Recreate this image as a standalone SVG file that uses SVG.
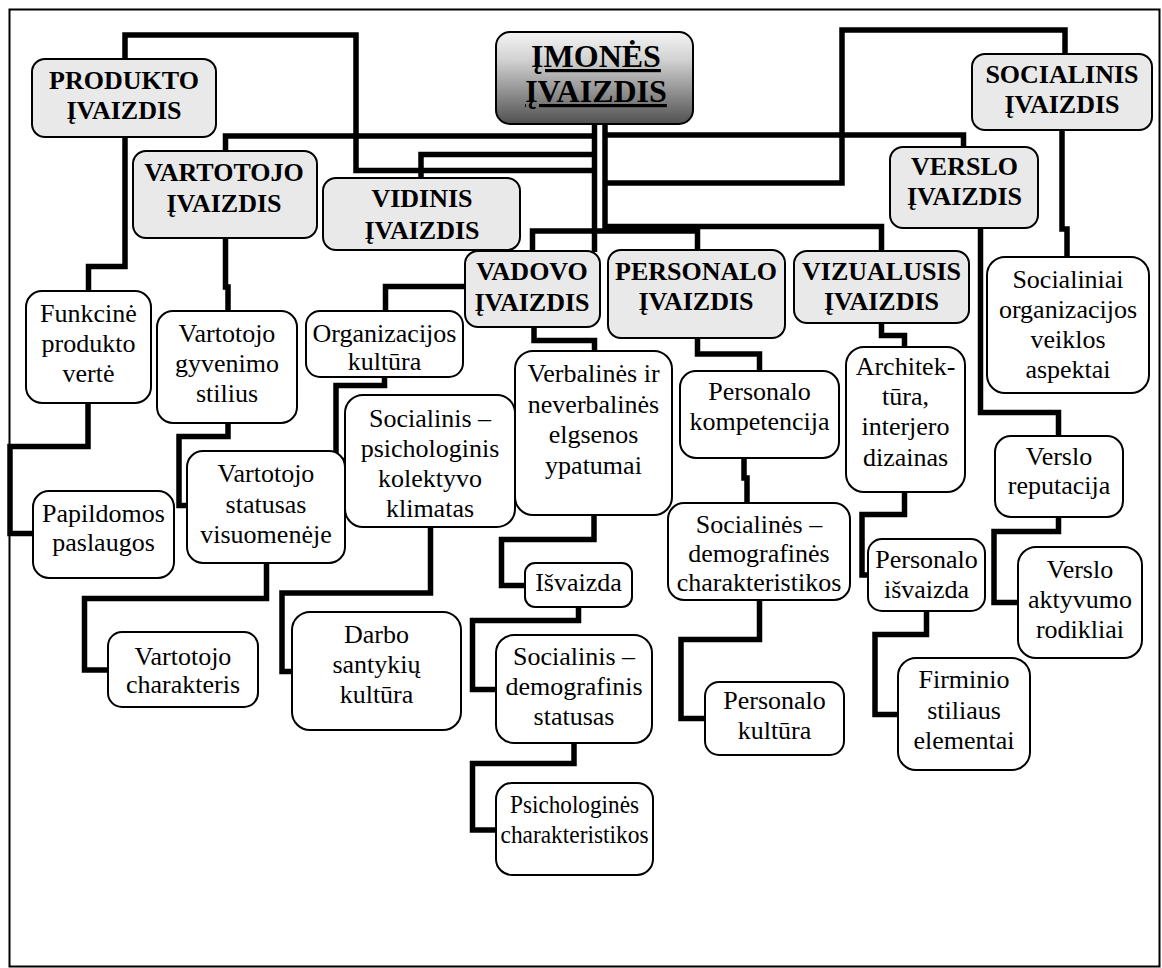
<svg xmlns="http://www.w3.org/2000/svg" width="1162" height="968" viewBox="0 0 1162 968">
  <defs>
    <linearGradient id="hdrGrad" x1="0" y1="0" x2="0" y2="1">
      <stop offset="0" stop-color="#f4f4f4"/>
      <stop offset="0.3" stop-color="#d2d2d2"/>
      <stop offset="1" stop-color="#505050"/>
    </linearGradient>
    <style>
      .frame { fill: #ffffff; stroke: #000000; stroke-width: 2; }
      .wire { fill: none; stroke: #000000; stroke-width: 5.5; stroke-linejoin: miter; stroke-linecap: butt; }
      .head rect { fill: #e9e9e9; stroke: #000000; stroke-width: 2; }
      .leaf rect { fill: #ffffff; stroke: #000000; stroke-width: 2; }
      .head text { font-weight: bold; font-size: 26px; text-anchor: middle; fill: #000000; }
      .leaf text { font-size: 26px; text-anchor: middle; fill: #000000; }
      #imones rect { fill: url(#hdrGrad); stroke: #000000; stroke-width: 2; }
      #imones text { font-weight: bold; font-size: 32px; text-anchor: middle; fill: #000000; text-decoration: underline; }
    </style>
  </defs>

  <!-- outer frame -->
  <rect class="frame" x="9.5" y="9.5" width="1150" height="957"/>

  <!-- connectors -->
  <g id="connectors" class="wire">
    <!-- central trunks -->
    <path d="M594.5 124 V252"/>
    <path d="M605 124 V231"/>
    <!-- left-hand branches -->
    <path d="M594.5 136 H225.5 V151"/>
    <path d="M594.5 154.5 H421 V178"/>
    <path d="M594.5 170.5 H356 V35 H125 V59"/>
    <path d="M532.5 252 V231 H697.5 V250"/>
    <!-- right-hand branches -->
    <path d="M605 135 H963.5 V147"/>
    <path d="M605 183 H842 V30 H1065 V54"/>
    <path d="M605 226.5 H881.5 V251"/>

    <!-- product image -->
    <path d="M125 137 V266.5 H88.5 V291"/>
    <path d="M88 403 V446.5 H10 V533.5 H33"/>
    <!-- consumer image -->
    <path d="M225.5 238 V287 H228 V311"/>
    <path d="M228 423 V436.5 H179 V505.5 H187"/>
    <path d="M266.5 563 V598.5 H84.5 V670 H108"/>
    <!-- manager image -->
    <path d="M465 286.5 H385.5 V311"/>
    <path d="M384.5 377 V385.5 H336 V460.5 H345"/>
    <path d="M430.5 527 V593 H282 V671.5 H292"/>
    <path d="M534 327 V340.5 H594.5 V351"/>
    <path d="M594 515 V539.5 H501.5 V585.5 H525"/>
    <path d="M578.5 607 V620.5 H472.5 V689.5 H496"/>
    <path d="M574 743 V763.5 H472.5 V830 H496"/>
    <!-- staff image -->
    <path d="M697.5 338 V354 H759.5 V371"/>
    <path d="M744 458 V478 H747 V503"/>
    <path d="M759.5 600 V639.5 H681 V718.5 H705"/>
    <!-- visual image -->
    <path d="M881.5 323 V335.5 H904.5 V347"/>
    <path d="M904.5 492 V514.5 H862 V575 H869"/>
    <path d="M926.5 611 V634.5 H875 V714.5 H898"/>
    <!-- business image -->
    <path d="M980.5 228 V412.5 H1058.5 V436"/>
    <path d="M1058.5 517 V531.5 H994 V602.5 H1018"/>
    <!-- social image -->
    <path d="M1062 130 V229 H1067 V257"/>
  </g>

  <g id="nodes" font-family="'Liberation Serif', 'Times New Roman', 'Noto Serif', 'DejaVu Serif', serif">
  <!-- root node -->
  <g id="imones">
    <rect x="496" y="32" width="197" height="92" rx="14"/>
    <text x="596" y="67">ĮMONĖS</text>
    <text x="596" y="102">ĮVAIZDIS</text>
  </g>

  <!-- category nodes -->
  <g id="produkto" class="head">
    <rect x="32" y="59" width="184" height="78" rx="13"/>
    <text x="124" y="89">PRODUKTO</text>
    <text x="124" y="119">ĮVAIZDIS</text>
  </g>
  <g id="vartotojo" class="head">
    <rect x="133" y="151" width="184" height="87" rx="13"/>
    <text x="224" y="181">VARTOTOJO</text>
    <text x="224" y="212">ĮVAIZDIS</text>
  </g>
  <g id="vidinis" class="head">
    <rect x="323" y="178" width="197" height="72" rx="13"/>
    <text x="422" y="207">VIDINIS</text>
    <text x="422" y="239">ĮVAIZDIS</text>
  </g>
  <g id="vadovo" class="head">
    <rect x="465" y="251" width="135" height="76" rx="13"/>
    <text x="532" y="280">VADOVO</text>
    <text x="532" y="311">ĮVAIZDIS</text>
  </g>
  <g id="personalo" class="head">
    <rect x="608" y="250" width="177" height="88" rx="13"/>
    <text x="696" y="280">PERSONALO</text>
    <text x="696" y="310">ĮVAIZDIS</text>
  </g>
  <g id="vizualusis" class="head">
    <rect x="794" y="251" width="175" height="72" rx="13"/>
    <text x="881.5" y="280">VIZUALUSIS</text>
    <text x="881.5" y="310">ĮVAIZDIS</text>
  </g>
  <g id="verslo" class="head">
    <rect x="890" y="147" width="148" height="81" rx="13"/>
    <text x="964.5" y="175">VERSLO</text>
    <text x="964.5" y="205">ĮVAIZDIS</text>
  </g>
  <g id="socialinis" class="head">
    <rect x="972" y="54" width="180" height="76" rx="13"/>
    <text x="1062" y="83">SOCIALINIS</text>
    <text x="1062" y="113">ĮVAIZDIS</text>
  </g>

  <!-- detail nodes -->
  <g id="funkcine" class="leaf">
    <rect x="26" y="291" width="125" height="112" rx="16"/>
    <text x="88.5" y="322">Funkcinė</text>
    <text x="88.5" y="352">produkto</text>
    <text x="88.5" y="382">vertė</text>
  </g>
  <g id="papildomos" class="leaf">
    <rect x="33" y="491" width="141" height="87" rx="16"/>
    <text x="103.5" y="522">Papildomos</text>
    <text x="103.5" y="551">paslaugos</text>
  </g>
  <g id="gyvenimo" class="leaf">
    <rect x="157" y="311" width="140" height="112" rx="16"/>
    <text x="227" y="342">Vartotojo</text>
    <text x="227" y="372">gyvenimo</text>
    <text x="227" y="402">stilius</text>
  </g>
  <g id="statusas" class="leaf">
    <rect x="187" y="451" width="158" height="112" rx="16"/>
    <text x="266" y="482">Vartotojo</text>
    <text x="266" y="513">statusas</text>
    <text x="266" y="543">visuomenėje</text>
  </g>
  <g id="charakteris" class="leaf">
    <rect x="108" y="632" width="150" height="75" rx="14"/>
    <text x="183" y="665">Vartotojo</text>
    <text x="183" y="693">charakteris</text>
  </g>
  <g id="organizacijos" class="leaf">
    <rect x="306" y="311" width="157" height="66" rx="14"/>
    <text x="384.5" y="342">Organizacijos</text>
    <text x="384.5" y="370">kultūra</text>
  </g>
  <g id="klimatas" class="leaf">
    <rect x="345" y="395" width="170" height="132" rx="18"/>
    <text x="430" y="427">Socialinis –</text>
    <text x="430" y="457">psichologinis</text>
    <text x="430" y="487">kolektyvo</text>
    <text x="430" y="517">klimatas</text>
  </g>
  <g id="darbo" class="leaf">
    <rect x="292" y="612" width="169" height="118" rx="18"/>
    <text x="376.5" y="643">Darbo</text>
    <text x="376.5" y="673">santykių</text>
    <text x="376.5" y="703">kultūra</text>
  </g>
  <g id="verbalines" class="leaf">
    <rect x="515" y="351" width="157" height="164" rx="18"/>
    <text x="593.5" y="382">Verbalinės ir</text>
    <text x="593.5" y="413">neverbalinės</text>
    <text x="593.5" y="443">elgsenos</text>
    <text x="593.5" y="474">ypatumai</text>
  </g>
  <g id="isvaizda" class="leaf">
    <rect x="525" y="563" width="107" height="44" rx="10"/>
    <text x="578.5" y="591">Išvaizda</text>
  </g>
  <g id="demografinis" class="leaf">
    <rect x="496" y="635" width="156" height="108" rx="18"/>
    <text x="574" y="665">Socialinis –</text>
    <text x="574" y="695">demografinis</text>
    <text x="574" y="725">statusas</text>
  </g>
  <g id="psichologines" class="leaf">
    <rect x="496" y="783" width="157" height="92" rx="16"/>
    <text x="574.5" y="813" textLength="129" lengthAdjust="spacingAndGlyphs">Psichologinės</text>
    <text x="574.5" y="843" textLength="148" lengthAdjust="spacingAndGlyphs">charakteristikos</text>
  </g>
  <g id="kompetencija" class="leaf">
    <rect x="680" y="371" width="159" height="87" rx="16"/>
    <text x="759.5" y="400">Personalo</text>
    <text x="759.5" y="430">kompetencija</text>
  </g>
  <g id="charakteristikos" class="leaf">
    <rect x="668" y="503" width="182" height="97" rx="16"/>
    <text x="759" y="533">Socialinės –</text>
    <text x="759" y="562">demografinės</text>
    <text x="759" y="591">charakteristikos</text>
  </g>
  <g id="kultura" class="leaf">
    <rect x="705" y="682" width="139" height="73" rx="14"/>
    <text x="774.5" y="709">Personalo</text>
    <text x="774.5" y="739">kultūra</text>
  </g>
  <g id="architektura" class="leaf">
    <rect x="846" y="347" width="119" height="145" rx="18"/>
    <text x="905.5" y="375">Architek-</text>
    <text x="905.5" y="405">tūra,</text>
    <text x="905.5" y="435">interjero</text>
    <text x="905.5" y="466">dizainas</text>
  </g>
  <g id="pers-isvaizda" class="leaf">
    <rect x="868" y="539" width="117" height="72" rx="14"/>
    <text x="926.5" y="568">Personalo</text>
    <text x="926.5" y="598">išvaizda</text>
  </g>
  <g id="firminio" class="leaf">
    <rect x="898" y="658" width="132" height="112" rx="18"/>
    <text x="964" y="688">Firminio</text>
    <text x="964" y="719">stiliaus</text>
    <text x="964" y="749">elementai</text>
  </g>
  <g id="reputacija" class="leaf">
    <rect x="995" y="436" width="128" height="81" rx="16"/>
    <text x="1059" y="465">Verslo</text>
    <text x="1059" y="494">reputacija</text>
  </g>
  <g id="aktyvumo" class="leaf">
    <rect x="1018" y="547" width="124" height="111" rx="18"/>
    <text x="1080" y="578">Verslo</text>
    <text x="1080" y="608">aktyvumo</text>
    <text x="1080" y="638">rodikliai</text>
  </g>
  <g id="socialiniai" class="leaf">
    <rect x="987" y="257" width="162" height="136" rx="18"/>
    <text x="1068" y="288">Socialiniai</text>
    <text x="1068" y="318">organizacijos</text>
    <text x="1068" y="348">veiklos</text>
    <text x="1068" y="378">aspektai</text>
  </g>
  </g>
</svg>
